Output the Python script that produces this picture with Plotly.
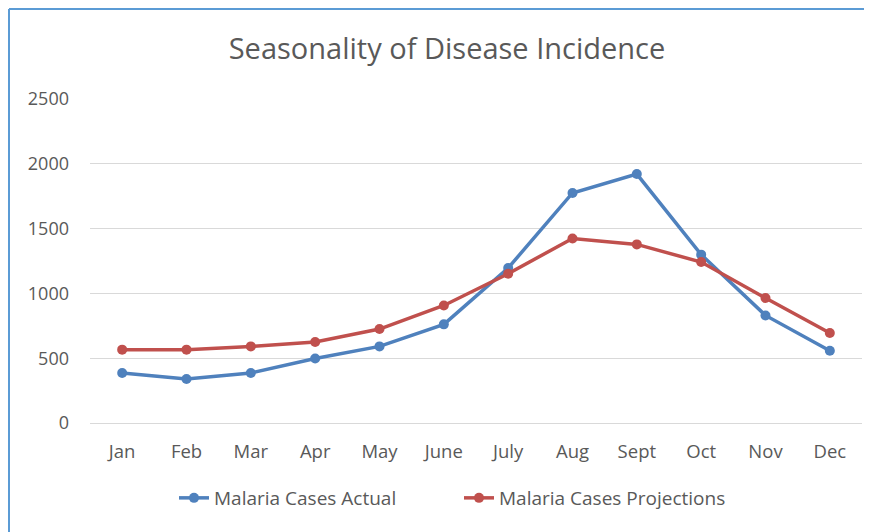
import plotly.graph_objects as go

months = ["Jan", "Feb", "Mar", "Apr", "May", "June", "July", "Aug", "Sept", "Oct", "Nov", "Dec"]
actual = [386, 340, 386, 498, 591, 761, 1196, 1775, 1921, 1299, 830, 558]
projections = [566, 566, 591, 625, 725, 907, 1152, 1424, 1378, 1242, 964, 694]
y_ticks = [0, 500, 1000, 1500, 2000, 2500]

# The page body has an 8px margin, so the figure is 8px smaller and every position is shifted by 8px.
W, H = 864, 524
L, R, T, B = 82, 10, 91, 109
plot_w = W - L - R
plot_h = H - T - B

fig = go.Figure()
fig.add_trace(go.Scatter(
    x=months, y=actual, name="Malaria Cases Actual", mode="lines+markers",
    line=dict(color="#4F81BD", width=3.5), marker=dict(color="#4F81BD", size=10),
))
fig.add_trace(go.Scatter(
    x=months, y=projections, name="Malaria Cases Projections", mode="lines+markers",
    line=dict(color="#C0504D", width=3.5), marker=dict(color="#C0504D", size=10),
))

fig.update_layout(
    width=W, height=H,
    margin=dict(l=L, r=R, t=T, b=B),
    paper_bgcolor="white", plot_bgcolor="white",
    font=dict(family="Open Sans", color="#595959", size=18),
    title=dict(text="Seasonality of Disease Incidence", x=439 / W, xanchor="center",
               y=1 - 41 / H, yanchor="middle",
               font=dict(family="Open Sans", size=29, color="#595959")),
    showlegend=True,
    legend=dict(orientation="h", x=(451 - L) / plot_w, xanchor="center",
                y=(plot_h - (490 - T)) / plot_h, yanchor="middle",
                font=dict(size=19, color="#595959"), tracegroupgap=0,
                entrywidth=240, entrywidthmode="pixels",
                bgcolor="rgba(0,0,0,0)"),
    xaxis=dict(range=[-0.5, 11.5], showgrid=False, showline=True, linecolor="#D9D9D9",
               linewidth=1, ticks="", ticklabelstandoff=12, zeroline=False,
               tickfont=dict(size=18.5)),
    yaxis=dict(range=[0, 2500], tickvals=y_ticks, showgrid=True, gridcolor="#D9D9D9",
               gridwidth=1, zeroline=False, ticks="", ticklabelstandoff=20,
               showline=False),
    shapes=[dict(type="line", xref="paper", yref="paper",
                 x0=(1 - L) / plot_w, x1=(W - L) / plot_w, y0=(plot_h + T - 1) / plot_h,
                 y1=(plot_h + T - 1) / plot_h,
                 line=dict(color="#5B9BD5", width=2)),
            dict(type="line", xref="paper", yref="paper",
                 x0=(1 - L) / plot_w, x1=(1 - L) / plot_w, y0=(plot_h + T - 1) / plot_h,
                 y1=-B / plot_h, line=dict(color="#5B9BD5", width=2))],
)

fig.write_html("out.html", config={"displayModeBar": False})
